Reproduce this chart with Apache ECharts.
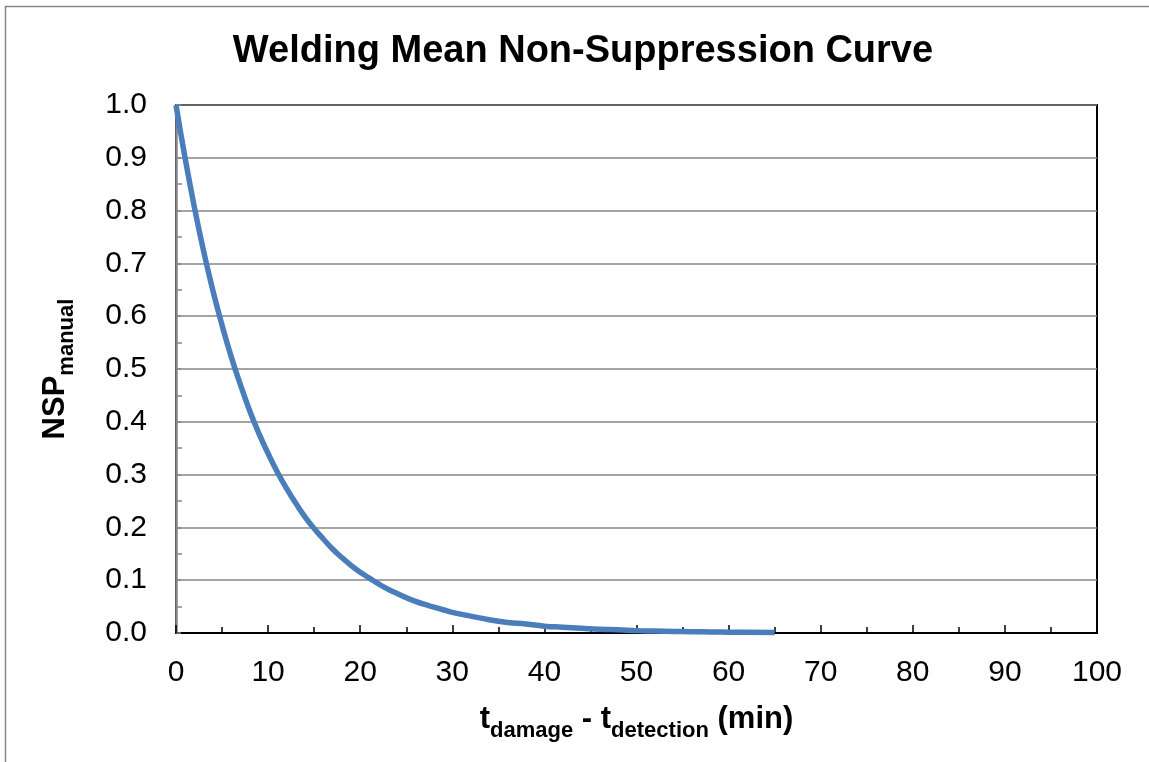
<!DOCTYPE html>
<html>
<head>
<meta charset="utf-8">
<script src="https://cdn.jsdelivr.net/npm/echarts@6/dist/echarts.min.js"></script>
<style>
html,body{margin:0;padding:0;background:#fff;}
#chart{width:1149px;height:762px;}
</style>
</head>
<body>
<div id="chart"></div>
<script>
// Time after detection (min) and read-off non-suppression probability
var timeMin = [0,1,2,3,4,5,6,7,8,9,10,11,12,13,14,15,16,17,18,19,20,21,22,23,24,25,26,27,28,29,30,32,34,36,38,40,42,44,46,48,50,52,54,56,58,60,62,65];
var nspManual = [1.000,0.898,0.806,0.723,0.649,0.583,0.523,0.470,0.421,0.378,0.340,0.305,0.274,0.246,0.220,0.198,0.178,0.159,0.143,0.128,0.115,0.104,0.093,0.083,0.075,0.067,0.060,0.054,0.049,0.044,0.039,0.032,0.025,0.020,0.017,0.013,0.011,0.009,0.007,0.006,0.0045,0.0036,0.0029,0.0024,0.0019,0.0015,0.0012,0.0009];
var xTicks = [0,10,20,30,40,50,60,70,80,90,100];
var yTicks = [0.0,0.1,0.2,0.3,0.4,0.5,0.6,0.7,0.8,0.9,1.0];

var seriesData = timeMin.map(function(t,i){return [t,nspManual[i]];});
var FONT = '"Liberation Sans", Arial, sans-serif';

var chart = echarts.init(document.getElementById('chart'));
chart.setOption({
  backgroundColor:'#fff',
  animation:false,
  title:{
    text:'Welding Mean Non-Suppression Curve',
    left:578, top:28, textAlign:'center',
    textStyle:{fontFamily:FONT,fontSize:38,fontWeight:'bold',color:'#000'}
  },
  graphic:[{
    type:'rect', z:-1,
    shape:{x:5.5,y:6.5,width:1200,height:800},
    style:{fill:'none',stroke:'#868686',lineWidth:1.5}
  }],
  grid:{left:176,right:52,top:105,bottom:129,show:true,borderColor:'#000',borderWidth:2,backgroundColor:'#fff'},
  xAxis:{
    type:'value', min:xTicks[0], max:xTicks[xTicks.length-1], interval:10,
    axisLine:{show:true,onZero:false,lineStyle:{color:'#000',width:2}},
    axisTick:{show:true,inside:true,length:8,lineStyle:{color:'#000',width:1.5}},
    minorTick:{show:true,splitNumber:2,length:6,lineStyle:{color:'#000',width:1.5}},
    splitLine:{show:false},
    axisLabel:{fontFamily:FONT,fontSize:30,color:'#000',margin:25},
    name:'{m|t}{s|damage}{m| - t}{s|detection}{m| (min)}',
    nameLocation:'middle', nameGap:66,
    nameTextStyle:{
      rich:{
        m:{fontFamily:FONT,fontSize:31,fontWeight:'bold',color:'#000',lineHeight:36,verticalAlign:'bottom'},
        s:{fontFamily:FONT,fontSize:22,fontWeight:'bold',color:'#000',lineHeight:36,verticalAlign:'bottom',padding:[0,0,-7,0]}
      }
    }
  },
  yAxis:{
    type:'value', min:yTicks[0], max:yTicks[yTicks.length-1], interval:0.1,
    axisLine:{show:true,onZero:false,lineStyle:{color:'#868686',width:2.5}},
    axisTick:{show:true,inside:true,length:5,lineStyle:{color:'#868686',width:1.5}},
    minorTick:{show:true,splitNumber:2,length:6,lineStyle:{color:'#868686',width:1.5}},
    splitLine:{show:true,lineStyle:{color:'#868686',width:1.5}},
    axisLabel:{fontFamily:FONT,fontSize:30,color:'#000',margin:29,formatter:function(v){return v.toFixed(1);}},
    name:'{m|NSP}{s|manual}',
    nameLocation:'middle', nameGap:105, nameRotate:90,
    nameTextStyle:{
      rich:{
        m:{fontFamily:FONT,fontSize:31,fontWeight:'bold',color:'#000',lineHeight:36,verticalAlign:'bottom'},
        s:{fontFamily:FONT,fontSize:22,fontWeight:'bold',color:'#000',lineHeight:36,verticalAlign:'bottom',padding:[0,0,-7,0]}
      }
    }
  },
  series:[{
    type:'line', data:seriesData, smooth:true, showSymbol:false,
    lineStyle:{color:'#4A7EBB',width:5.5}, z:3, clip:false
  }]
});
</script>
</body>
</html>
